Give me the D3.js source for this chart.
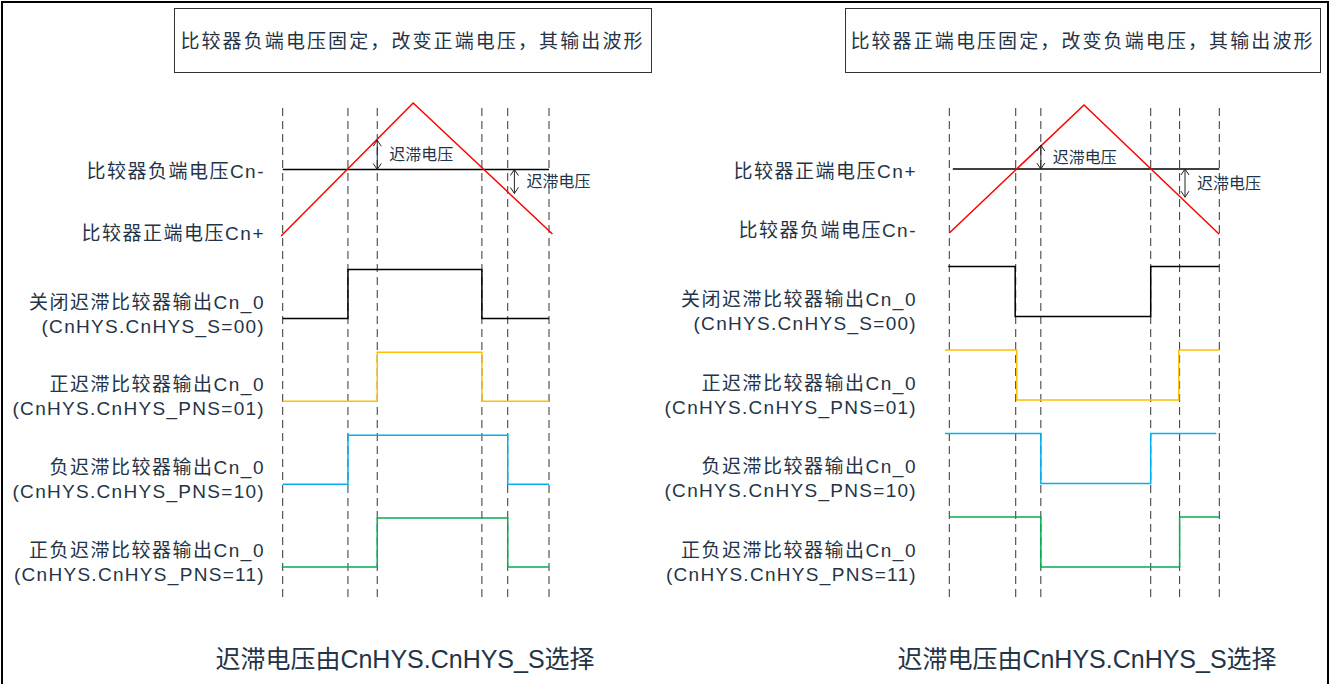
<!DOCTYPE html>
<html>
<head>
<meta charset="utf-8">
<title>comparator hysteresis</title>
<script src="https://cdn.jsdelivr.net/npm/d3@7"></script>
<style>
  body{margin:0;background:#fff;}
  text{font-family:"Liberation Sans",Arial,"Noto Sans CJK SC",sans-serif;fill:#243447;}
</style>
</head>
<body>
<script>
// ---- data (time in arbitrary units 0..10, voltage 0..2, logic 0/1) ----
var titles = ["比较器负端电压固定，改变正端电压，其输出波形", "比较器正端电压固定，改变负端电压，其输出波形"];
var footNote = "迟滞电压由CnHYS.CnHYS_S选择";
var hysText = "迟滞电压";

var analogLabelsL = ["比较器负端电压Cn-", "比较器正端电压Cn+"];
var analogLabelsR = ["比较器正端电压Cn+", "比较器负端电压Cn-"];
var outLabels = [
  ["关闭迟滞比较器输出Cn_0", "(CnHYS.CnHYS_S=00)"],
  ["正迟滞比较器输出Cn_0", "(CnHYS.CnHYS_PNS=01)"],
  ["负迟滞比较器输出Cn_0", "(CnHYS.CnHYS_PNS=10)"],
  ["正负迟滞比较器输出Cn_0", "(CnHYS.CnHYS_PNS=11)"]
];
var outColors = ["#000000", "#FFC000", "#00B0F0", "#00B050"];

// left panel
var marksL = [0, 2.45, 3.55, 7.48, 8.45, 10];
var fixedL = [[0, 1], [10, 1]];
var rampL = [[-0.06, 0], [4.9, 2], [10.13, 0.03]];
var hysL = [[3.55, 1, 1.44], [8.7, 1, 0.64]];
var stepsL = [
  [[0, 0], [2.45, 1], [7.48, 0], [10, 0]],
  [[0, 0], [3.55, 1], [7.48, 0], [10, 0]],
  [[0, 0], [2.45, 1], [8.45, 0], [10, 0]],
  [[-0.04, 0], [3.55, 1], [8.45, 0], [10, 0]]
];

// right panel
var marksR = [0, 2.46, 3.39, 7.46, 8.53, 10];
var fixedR = [[0.13, 1], [10, 1]];
var rampR = [[0, 0], [4.99, 2], [10, -0.02]];
var hysR = [[3.39, 1, 1.375], [8.73, 1, 0.56]];
var stepsR = [
  [[-0.04, 1], [2.44, 0], [7.46, 1], [10, 1]],
  [[-0.16, 1], [2.5, 0], [8.5, 1], [10, 1]],
  [[-0.16, 1], [3.39, 0], [7.46, 1], [9.89, 1]],
  [[0, 1], [3.39, 0], [8.53, 1], [10, 1]]
];

var W = 1330, H = 684;
var svg = d3.select("body").append("svg").attr("width", W).attr("height", H);

// outer frame
svg.append("rect").attr("x", 2).attr("y", 2).attr("width", W - 4).attr("height", H + 10)
  .attr("fill", "none").attr("stroke", "#000").attr("stroke-width", 2);

var panels = [
  {title: titles[0], box: [174, 651], x: [282.7, 549], v: [236, 103], rows: [318.5, 567], hi: 49,
   labelX: 265, analog: analogLabelsL, marks: marksL, fixed: fixedL, ramp: rampL, hys: hysL, steps: stepsL, foot: 405},
  {title: titles[1], box: [845, 1320], x: [949.3, 1219.3], v: [233, 105], rows: [316.5, 567], hi: 50,
   labelX: 917, analog: analogLabelsR, marks: marksR, fixed: fixedR, ramp: rampR, hys: hysR, steps: stepsR, foot: 1087}
];

panels.forEach(function (p) {
  var g = svg.append("g");
  var x = d3.scaleLinear().domain([0, 10]).range(p.x);
  var yv = d3.scaleLinear().domain([0, 2]).range(p.v);
  var row = d3.scalePoint().domain(d3.range(outLabels.length)).range(p.rows);
  var yl = function (i, lv) { return row(i) - lv * p.hi; };

  // title box
  g.append("rect").attr("x", p.box[0] + 0.5).attr("y", 8.5).attr("width", p.box[1] - p.box[0]).attr("height", 64)
    .attr("fill", "#fff").attr("stroke", "#333").attr("stroke-width", 1);
  g.append("text").attr("x", (p.box[0] + p.box[1]) / 2).attr("y", 41).attr("dy", "0.35em")
    .attr("text-anchor", "middle").attr("font-size", 19).attr("letter-spacing", 2.1).text(p.title);

  // dashed time marks
  g.selectAll(".mark").data(p.marks).enter().append("line").attr("class", "mark")
    .attr("x1", function (d) { return x(d); }).attr("x2", function (d) { return x(d); })
    .attr("y1", 108).attr("y2", 598)
    .attr("stroke", "#333").attr("stroke-width", 1).attr("stroke-dasharray", "8,5");

  var line = d3.line().x(function (d) { return x(d[0]); }).y(function (d) { return yv(d[1]); });
  g.append("path").attr("d", line(p.fixed)).attr("fill", "none").attr("stroke", "#000").attr("stroke-width", 1.5);
  g.append("path").attr("d", line(p.ramp)).attr("fill", "none").attr("stroke", "#FF0000").attr("stroke-width", 1.5);

  // hysteresis arrows
  p.hys.forEach(function (h) {
    var hx = x(h[0]), a = yv(h[1]), b = yv(h[2]);
    var top = Math.min(a, b), bot = Math.max(a, b);
    g.append("path")
      .attr("d", "M" + hx + "," + top + "V" + bot +
        "M" + (hx - 4) + "," + (top + 6) + "L" + hx + "," + top + "L" + (hx + 4) + "," + (top + 6) +
        "M" + (hx - 4) + "," + (bot - 6) + "L" + hx + "," + bot + "L" + (hx + 4) + "," + (bot - 6))
      .attr("fill", "none").attr("stroke", "#222").attr("stroke-width", 1);
    g.append("text").attr("x", hx + 12).attr("y", (top + bot) / 2).attr("dy", "0.35em")
      .attr("font-size", 16).text(hysText);
  });

  // analog labels
  g.append("text").attr("x", p.labelX).attr("y", yv(1) + 2).attr("dy", "0.35em").attr("text-anchor", "end")
    .attr("font-size", 19).attr("letter-spacing", 1.5).text(p.analog[0]);
  g.append("text").attr("x", p.labelX).attr("y", yv(0) - 3).attr("dy", "0.35em").attr("text-anchor", "end")
    .attr("font-size", 19).attr("letter-spacing", 1.5).text(p.analog[1]);

  // digital outputs
  var step = d3.line().curve(d3.curveStepAfter)
    .x(function (d) { return x(d[0]); });
  p.steps.forEach(function (s, i) {
    step.y(function (d) { return yl(i, d[1]); });
    g.append("path").attr("d", step(s)).attr("fill", "none")
      .attr("stroke", outColors[i]).attr("stroke-width", 1.5);
    var cy = row(i) - p.hi / 2 + 20;
    g.append("text").attr("x", p.labelX).attr("y", cy - 12).attr("dy", "0.35em").attr("text-anchor", "end")
      .attr("font-size", 19).attr("letter-spacing", 1.5).text(outLabels[i][0]);
    g.append("text").attr("x", p.labelX).attr("y", cy + 12).attr("dy", "0.35em").attr("text-anchor", "end")
      .attr("font-size", 19).attr("letter-spacing", 1.3).text(outLabels[i][1]);
  });

  g.append("text").attr("x", p.foot).attr("y", 659).attr("dy", "0.35em").attr("text-anchor", "middle")
    .attr("font-size", 25).text(footNote);
});
</script>
</body>
</html>
